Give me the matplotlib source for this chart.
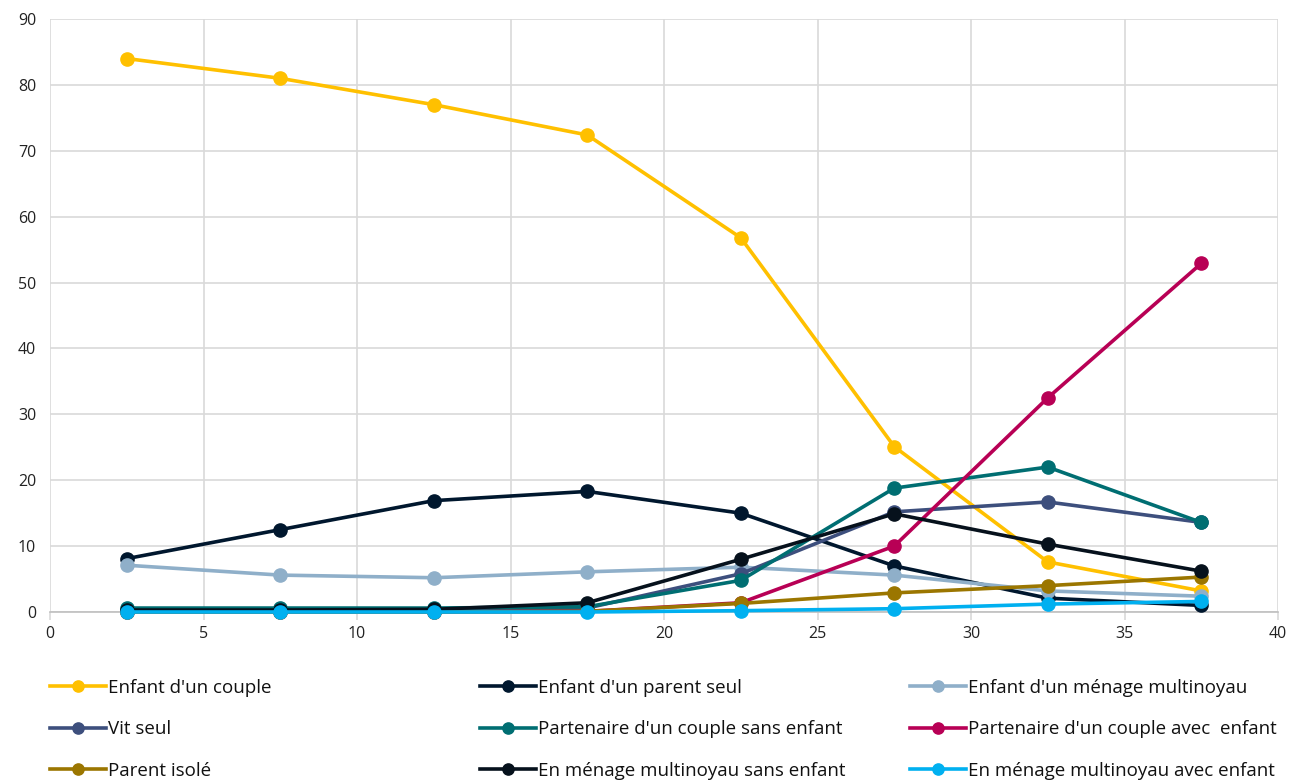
import matplotlib
matplotlib.use('Agg')
import matplotlib.pyplot as plt

plt.rcParams['font.family'] = ['Open Sans', 'DejaVu Sans']

# Data
x_vals = [2.5, 7.5, 12.5, 17.5, 22.5, 27.5, 32.5, 37.5]

series_names = [
    "Enfant d'un couple",
    "Enfant d'un parent seul",
    "Enfant d'un ménage multinoyau",
    "Vit seul",
    "Partenaire d'un couple sans enfant",
    "Partenaire d'un couple avec  enfant",
    "Parent isolé",
    "En ménage multinoyau sans enfant",
    "En ménage multinoyau avec enfant",
]

enfant_couple = [84.0, 81.0, 77.0, 72.4, 56.8, 25.1, 7.6, 3.2]
enfant_parent_seul = [8.1, 12.5, 16.9, 18.3, 15.0, 7.0, 2.1, 1.0]
enfant_multinoyau = [7.1, 5.6, 5.2, 6.1, 6.8, 5.6, 3.2, 2.4]
vit_seul = [0.3, 0.3, 0.3, 0.6, 5.8, 15.2, 16.7, 13.6]
partenaire_sans = [0.6, 0.6, 0.6, 0.8, 4.8, 18.8, 22.0, 13.6]
partenaire_avec = [0.0, 0.0, 0.0, 0.1, 1.4, 10.0, 32.5, 52.9]
parent_isole = [0.0, 0.0, 0.0, 0.1, 1.3, 2.9, 4.0, 5.3]
multinoyau_sans = [0.3, 0.3, 0.4, 1.4, 8.0, 14.9, 10.3, 6.2]
multinoyau_avec = [0.0, 0.0, 0.0, 0.0, 0.2, 0.5, 1.2, 1.6]

all_series = [enfant_couple, enfant_parent_seul, enfant_multinoyau, vit_seul,
              partenaire_sans, partenaire_avec, parent_isole, multinoyau_sans,
              multinoyau_avec]

colors = ['#FFC000', '#00172E', '#8FAFC9', '#3D4F7D', '#006E72',
          '#B80055', '#9B7600', '#06111C', '#00B0F0']

fig = plt.figure(figsize=(12.99, 7.80), dpi=100)
ax = fig.add_axes([50 / 1299, 1 - 612 / 780, 1228 / 1299, 593 / 780])

handles = []
for name, vals, col in zip(series_names, all_series, colors):
    h, = ax.plot(x_vals, vals, color=col, linewidth=2.6, marker='o',
                 markersize=9.5, label=name, clip_on=False, zorder=3)
    handles.append(h)

ax.set_xlim(0, 40)
ax.set_ylim(0, 90)
ax.set_xticks(range(0, 41, 5))
ax.set_yticks(range(0, 91, 10))
ax.grid(True, color='#d9d9d9', linewidth=1.2)
ax.set_axisbelow(True)
for s in ['top', 'right', 'left']:
    ax.spines[s].set_visible(False)
ax.spines['bottom'].set_color('#bfbfbf')
ax.spines['bottom'].set_linewidth(1.2)
ax.tick_params(axis='x', length=6, color='#d9d9d9', width=1.2, labelsize=11.5,
               labelcolor='#222222', pad=4)
ax.tick_params(axis='y', length=0, labelsize=11.5, labelcolor='#222222', pad=10)

# Legend: three columns laid out like the reference
col_x = [50, 480, 910]
for c in range(3):
    hs = [handles[r * 3 + c] for r in range(3)]
    leg = fig.legend(handles=hs, labels=[h.get_label() for h in hs],
                     loc='upper left', bbox_to_anchor=(col_x[c] / 1299, 1 - 679 / 780),
                     frameon=False, fontsize=13.5, handlelength=3.0,
                     handletextpad=0.1, labelspacing=1.25, borderaxespad=0,
                     borderpad=0, markerscale=0.85)
    for t in leg.get_texts():
        t.set_color('#111111')

fig.savefig('out.png', dpi=100)
